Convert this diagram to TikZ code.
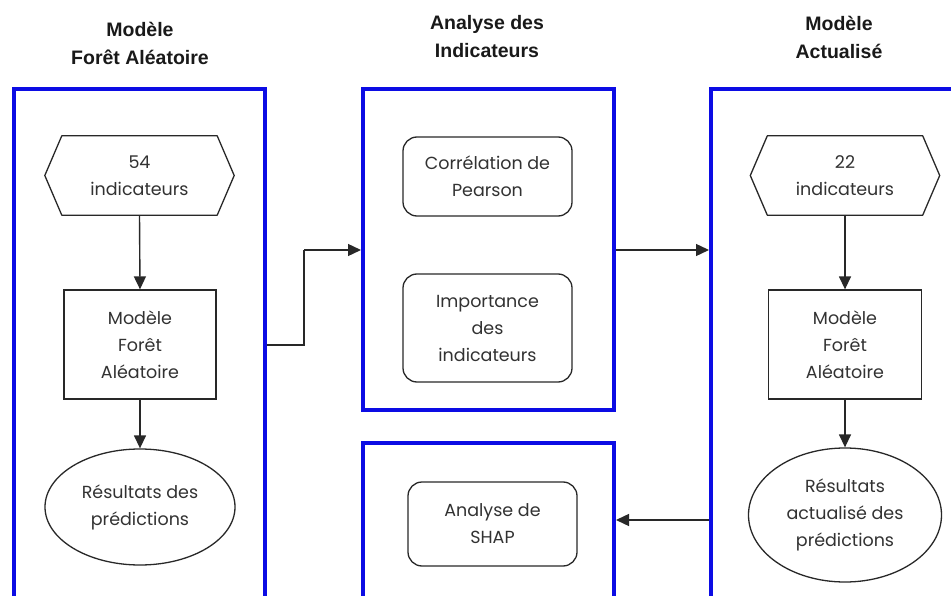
\documentclass[tikz,border=0pt]{standalone}
\usepackage{fontspec}
\setmainfont{Poppins}
\newfontfamily\titlefont{Liberation Sans}
\usetikzlibrary{arrows.meta,shapes.geometric}
\definecolor{frameblue}{RGB}{12,12,228}
\definecolor{txt}{RGB}{50,50,50}
\definecolor{edge}{RGB}{40,40,40}
\begin{document}
\begin{tikzpicture}[x=1pt,y=-1pt,
  frame/.style={draw=frameblue, line width=4pt, rectangle, inner sep=0pt},
  conn/.style={draw=edge, line width=1.4pt, -{Triangle[length=13pt,width=12pt]}},
  wire/.style={draw=edge, line width=1.4pt},
  body/.style={font=\fontsize{17.5}{27}\selectfont, text=txt, align=center, inner sep=0pt},
  title/.style={font=\titlefont\fontsize{19.5}{28}\selectfont\bfseries, text=black!90, align=center, inner sep=0pt},
  rectbox/.style={body, draw=edge, line width=1.3pt, rectangle},
  roundbox/.style={body, draw=edge, line width=1.3pt, rectangle, rounded corners=14pt},
  ellbox/.style={body, draw=edge, line width=1.3pt, ellipse},
  hexbox/.style={body, rectangle},
  hexline/.style={draw=edge, line width=1.3pt, line join=round}
]
\useasboundingbox (0,0) rectangle (951,596);
\clip (0,0) rectangle (951,596);
\fill[white] (0,0) rectangle (951,596);

% titles
\node[title] (t1) at (140,43) {Modèle\\Forêt Aléatoire};
\node[title] (t2) at (487,37) {Analyse des\\Indicateurs};
\node[title] (t3) at (839,37.5) {Modèle\\Actualisé};

% frames
\node[frame, minimum width=251pt, minimum height=622pt] (f1) at (139.5,400) {};
\node[frame, minimum width=251pt, minimum height=321pt] (f2) at (488.5,249.5) {};
\node[frame, minimum width=251pt, minimum height=300pt] (f3) at (488.5,593) {};
\node[frame, minimum width=300pt, minimum height=622pt] (f4) at (861,400) {};

% left column
\node[hexbox, minimum width=189pt, minimum height=79pt] (h1) at (139.5,175.5) {54\\indicateurs};
\draw[hexline] (h1.west) -- ([xshift=17pt]h1.north west) -- ([xshift=-17pt]h1.north east) -- (h1.east) -- ([xshift=-17pt]h1.south east) -- ([xshift=17pt]h1.south west) -- cycle;
\node[rectbox, minimum width=152pt, minimum height=109pt] (r1) at (140,344.5) {Modèle\\Forêt\\Aléatoire};
\node[ellbox, minimum width=190pt, minimum height=116pt] (e1) at (140,507) {Résultats des\\prédictions};

% middle column
\node[roundbox, minimum width=169pt, minimum height=79pt] (b1) at (487.5,176.5) {Corrélation de\\Pearson};
\node[roundbox, minimum width=169pt, minimum height=108pt] (b2) at (487.5,328) {Importance\\des\\indicateurs};
\node[roundbox, minimum width=169pt, minimum height=84pt] (b3) at (492.5,524) {Analyse de\\SHAP};

% right column
\node[hexbox, minimum width=189pt, minimum height=79pt] (h2) at (845,175.5) {22\\indicateurs};
\draw[hexline] (h2.west) -- ([xshift=17pt]h2.north west) -- ([xshift=-17pt]h2.north east) -- (h2.east) -- ([xshift=-17pt]h2.south east) -- ([xshift=17pt]h2.south west) -- cycle;
\node[rectbox, minimum width=153pt, minimum height=109pt] (r2) at (845,344.5) {Modèle\\Forêt\\Aléatoire};
\node[ellbox, minimum width=193pt, minimum height=134pt] (e2) at (845,515) {Résultats\\actualisé des\\prédictions};

% connectors
\draw[conn] (h1.south) -- (r1.north);
\draw[conn] (r1.south) -- (e1.north);
\draw[conn] (h2.south) -- (r2.north);
\draw[conn] (r2.south) -- (e2.north);

\coordinate (k1) at (304,345);
\coordinate (k2) at (304,250);
\coordinate (k3) at (660,250);
\coordinate (k4) at (660,520);
\draw[wire] (f1.east |- k1) -- (k1) -- (k2);
\draw[conn] (k2) -- (f2.west |- k2);
\draw[conn] (f2.east |- k3) -- (f4.west |- k3);
\draw[conn] (f4.west |- k4) -- (f3.east |- k4);
\end{tikzpicture}
\end{document}
